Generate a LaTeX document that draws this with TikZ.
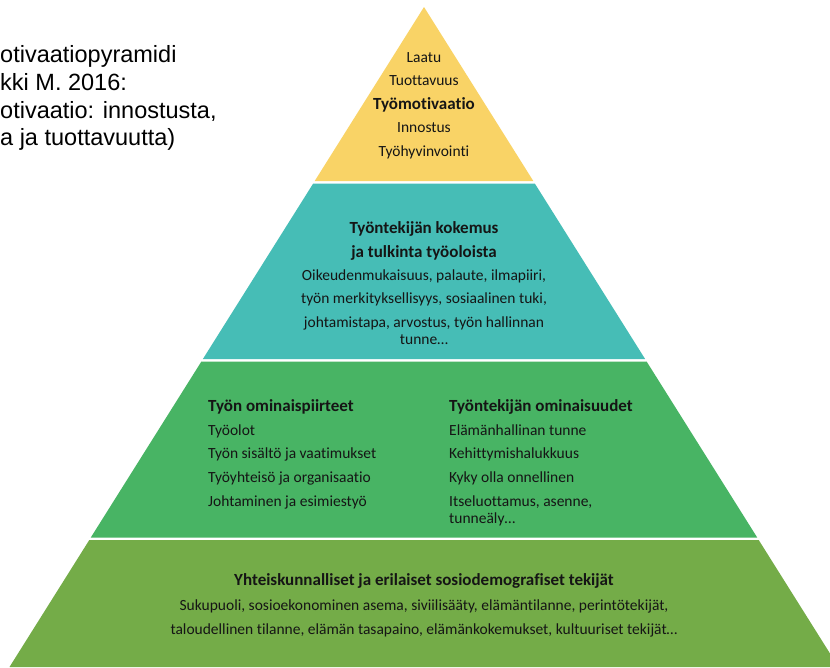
\documentclass[tikz,border=0pt]{standalone}
\usepackage{fontspec}
\setmainfont{Carlito}[Ligatures=NoCommon]
\newfontfamily\arialfont{Liberation Sans}
\definecolor{pyrYellow}{HTML}{F9D366}
\definecolor{pyrTeal}{HTML}{46BDB6}
\definecolor{pyrGreen}{HTML}{48B464}
\definecolor{pyrLeaf}{HTML}{74AC48}
\definecolor{txtcol}{HTML}{151515}
\begin{document}
\begin{tikzpicture}[x=1pt,y=-1pt,
  bodytxt/.style={inner sep=0pt, anchor=base, text=txtcol, font=\fontsize{15.5}{18}\selectfont},
  headtxt/.style={inner sep=0pt, anchor=base, text=txtcol, font=\fontsize{17}{20}\selectfont\bfseries},
  colbody/.style={bodytxt, anchor=base west},
  colhead/.style={headtxt, anchor=base west},
  sidetxt/.style={inner sep=0pt, anchor=base west, text=black, font=\arialfont\fontsize{23.5}{27}\selectfont}]
\useasboundingbox (0,0) rectangle (830,667);
\clip (0,0) rectangle (830,667);
\fill[white] (0,0) rectangle (830,667);
% pyramid bands
\fill[pyrYellow] (424,7) -- (533.3,181) -- (314.7,181) -- cycle;
\fill[pyrTeal] (313.2,183.5) -- (534.8,183.5) -- (645.1,359) -- (202.9,359) -- cycle;
\fill[pyrGreen] (201.4,361.5) -- (646.6,361.5) -- (757.2,537.5) -- (90.8,537.5) -- cycle;
\fill[pyrLeaf] (89.3,540) -- (758.7,540) -- (838.5,667) -- (9.5,667) -- cycle;
% side text
\node[sidetxt] (s1) at (0,62) {otivaatiopyramidi};
\node[sidetxt] (s2) at (0,90) {kki M. 2016:};
\node[sidetxt] (s3) at (0,118) {otivaatio: innostusta,};
\node[sidetxt] (s4) at (0,145.5) {a ja tuottavuutta)};
% yellow
\node[bodytxt] (y1) at (424,62) {Laatu};
\node[bodytxt] (y2) at (424,85.5) {Tuottavuus};
\node[headtxt] (y3) at (424,109.5) {Työmotivaatio};
\node[bodytxt] (y4) at (424,132.5) {Innostus};
\node[bodytxt] (y5) at (424,156) {Työhyvinvointi};
% teal
\node[headtxt] (t1) at (424,233.5) {Työntekijän kokemus};
\node[headtxt] (t2) at (424,257.5) {ja tulkinta työoloista};
\node[bodytxt] (t3) at (424,280) {Oikeudenmukaisuus, palaute, ilmapiiri,};
\node[bodytxt] (t4) at (424,303) {työn merkityksellisyys, sosiaalinen tuki,};
\node[bodytxt] (t5) at (424,327) {johtamistapa, arvostus, työn hallinnan};
\node[bodytxt] (t6) at (424,344) {tunne…};
% green left column
\node[colhead] (gl1) at (208,411) {Työn ominaispiirteet};
\node[colbody] (gl2) at (208,435) {Työolot};
\node[colbody] (gl3) at (208,458.5) {Työn sisältö ja vaatimukset};
\node[colbody] (gl4) at (208,482.5) {Työyhteisö ja organisaatio};
\node[colbody] (gl5) at (208,506) {Johtaminen ja esimiestyö};
% green right column
\node[colhead] (gr1) at (449,411) {Työntekijän ominaisuudet};
\node[colbody] (gr2) at (449,435) {Elämänhallinan tunne};
\node[colbody] (gr3) at (449,458.5) {Kehittymishalukkuus};
\node[colbody] (gr4) at (449,482.5) {Kyky olla onnellinen};
\node[colbody] (gr5) at (449,506) {Itseluottamus, asenne,};
\node[colbody] (gr6) at (449,523.5) {tunneäly…};
% bottom band
\node[headtxt] (b1) at (424,585.5) {Yhteiskunnalliset ja erilaiset sosiodemografiset tekijät};
\node[bodytxt] (b2) at (424,610) {Sukupuoli, sosioekonominen asema, siviilisääty, elämäntilanne, perintötekijät,};
\node[bodytxt] (b3) at (424,634) {taloudellinen tilanne, elämän tasapaino, elämänkokemukset, kultuuriset tekijät…};
\end{tikzpicture}
\end{document}
